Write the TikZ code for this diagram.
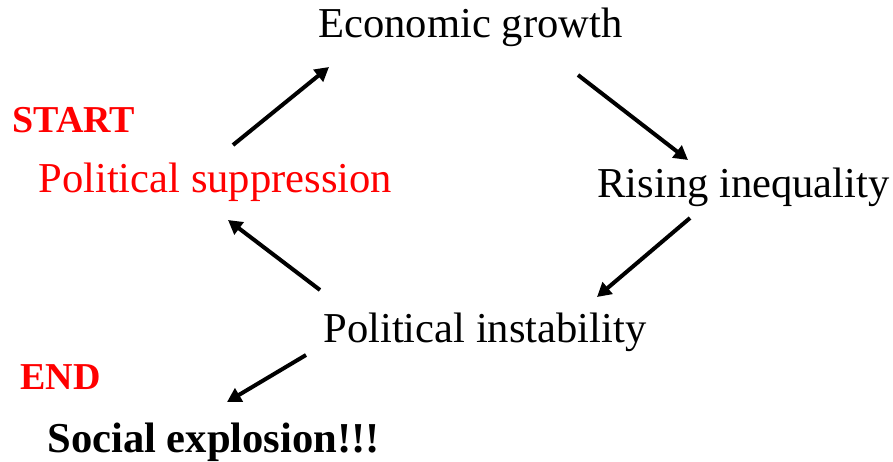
\documentclass[tikz,border=0pt]{standalone}
\usepackage{fontspec}
\setmainfont{Liberation Serif}
\usetikzlibrary{arrows.meta}

\begin{document}
\begin{tikzpicture}[
  x=0.5pt, y=-0.5pt,
  stage/.style={
    anchor=base west, inner sep=0pt,
    font=\fontsize{21.3}{25}\selectfont
  },
  tag/.style={
    anchor=base west, inner sep=0pt, text=red,
    font=\fontsize{19}{23}\selectfont\bfseries
  },
  arr/.style={-{Triangle[length=7pt,width=7.5pt]}, line width=2pt},
]
\useasboundingbox (0,0) rectangle (893,461);

\node[stage] (growth) at (318, 37)  {Economic growth};
\node[stage] (ineq)   at (597, 197) {Rising inequality};
\node[stage, text=red] (supp) at (38, 192) {Political suppression};
\node[stage] (instab) at (323, 342) {Political instability};
\node[stage, font=\fontsize{21.3}{25}\selectfont\bfseries] (expl) at (47, 452) {Social explosion!!!};

\node[tag] (start) at (12, 132) {START};
\node[tag] (end)   at (20, 389) {END};

% arrow ends
\coordinate (supp-out)   at (233, 145);
\coordinate (growth-in)  at (329, 67);
\coordinate (growth-out) at (578, 75);
\coordinate (ineq-in)    at (688, 160);
\coordinate (ineq-out)   at (690, 218);
\coordinate (instab-in)  at (597, 297);
\coordinate (instab-out) at (320, 290);
\coordinate (supp-in)    at (228, 220);
\coordinate (instab-dn)  at (306, 355);
\coordinate (expl-in)    at (227, 402);

\draw[arr] (supp-out)   -- (growth-in);
\draw[arr] (growth-out) -- (ineq-in);
\draw[arr] (ineq-out)   -- (instab-in);
\draw[arr] (instab-out) -- (supp-in);
\draw[arr] (instab-dn)  -- (expl-in);

\end{tikzpicture}
\end{document}
